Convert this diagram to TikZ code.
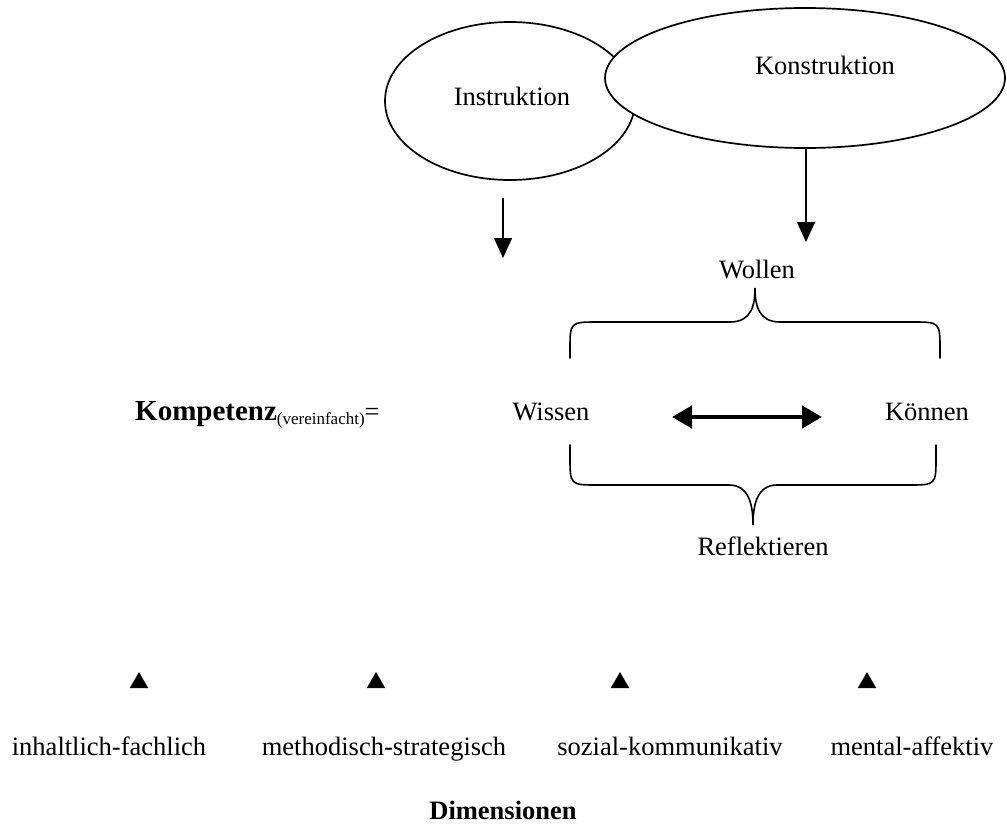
\documentclass[tikz,border=0pt]{standalone}
\usepackage{fontspec}
\setmainfont{Liberation Serif}
\usetikzlibrary{shapes.geometric,arrows.meta}
\begin{document}
\begin{tikzpicture}[x=1pt,y=-1pt,
  txt/.style={inner sep=0pt,anchor=base,font=\fontsize{26.5}{30}\selectfont},
  oval/.style={ellipse,draw,line width=1.7pt,fill=white,inner sep=0pt},
  downarrow/.style={line width=1.6pt,-{Triangle[length=20pt,width=18pt]}},
  bothways/.style={line width=4.5pt,{Triangle[length=20pt,width=22pt]}-{Triangle[length=20pt,width=22pt]}},
  brace/.style={line width=1.6pt,line cap=round},
  tri/.style={regular polygon,regular polygon sides=3,fill=black,draw=none,inner sep=0pt,minimum size=21.3pt}]
\useasboundingbox (0,0) rectangle (1007,825);

% the two learning approaches
\node[oval,minimum width=250pt,minimum height=158pt] (instr) at (510,101) {};
\node[oval,minimum width=400pt,minimum height=140pt] (konstr) at (805,78) {};
\node[txt] (instrtxt) at (512,105) {Instruktion};
\node[txt] (konstrtxt) at (825,74) {Konstruktion};

% arrows leading down
\coordinate (ia) at (503,198);
\coordinate (ib) at (503,258);
\coordinate (ka) at (806,149);
\coordinate (kb) at (806,242);
\draw[downarrow] (ia) -- (ib);
\draw[downarrow] (ka) -- (kb);

% competence components
\node[txt] (wollen) at (757,278) {Wollen};
\node[txt,anchor=base west] (kompetenz) at (135,420)
  {{\fontsize{29}{32}\selectfont\bfseries Kompetenz}\raisebox{-4pt}{\fontsize{17}{18}\selectfont(vereinfacht)}=};
\node[txt] (wissen) at (551,420) {Wissen};
\node[txt] (koennen) at (927,420) {Können};
\node[txt] (reflekt) at (763,555) {Reflektieren};

\coordinate (wl) at (672,417);
\coordinate (wr) at (822,417);
\draw[bothways] (wl) -- (wr);

% upper and lower braces
\draw[brace] (570,358) -- (570,350) .. controls (570,322) .. (598,322) -- (730,322)
  .. controls (751,322) and (755,306) .. (755,288)
  .. controls (755,306) and (759,322) .. (780,322) -- (912,322)
  .. controls (940,322) .. (940,350) -- (940,358);
\draw[brace] (570,445) -- (570,457) .. controls (570,485) .. (598,485) -- (729,485)
  .. controls (749,485) and (753,505) .. (753,525)
  .. controls (753,505) and (757,485) .. (777,485) -- (908,485)
  .. controls (936,485) .. (936,457) -- (936,445);

% dimensions
\node[tri] (t1) at (139,682.7) {};
\node[tri] (t2) at (376,682.7) {};
\node[tri] (t3) at (620,682.7) {};
\node[tri] (t4) at (867,682.7) {};
\node[txt] (d1) at (109,755) {inhaltlich-fachlich};
\node[txt] (d2) at (384,755) {methodisch-strategisch};
\node[txt] (d3) at (670,755) {sozial-kommunikativ};
\node[txt] (d4) at (912,755) {mental-affektiv};
\node[txt,font=\fontsize{26.5}{30}\selectfont\bfseries] (dim) at (503,819) {Dimensionen};
\end{tikzpicture}
\end{document}
